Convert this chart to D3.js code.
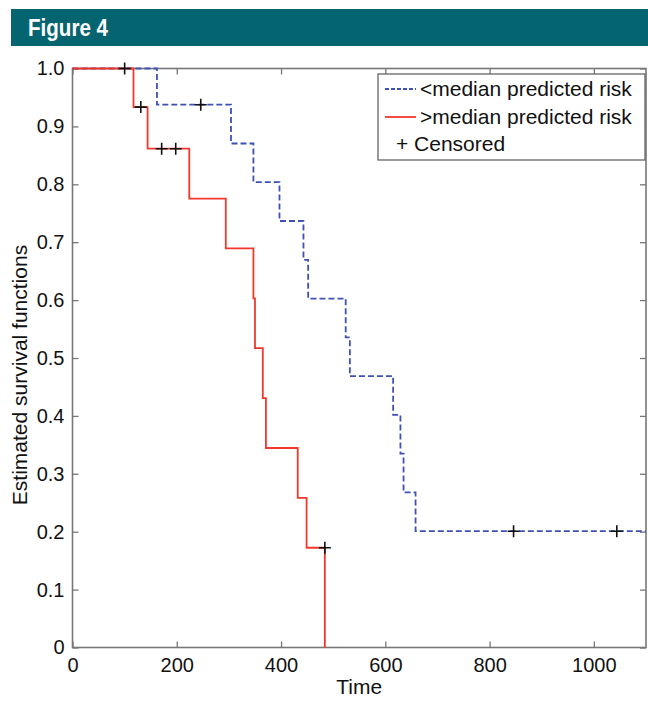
<!DOCTYPE html>
<html>
<head>
<meta charset="utf-8">
<script src="https://cdn.jsdelivr.net/npm/d3@7"></script>
<style>
    body { margin: 0; background: #fff; }
    svg { display: block; }
    .tick text, .lbl { font-family: "Liberation Sans", Arial, Helvetica, sans-serif; font-size: 20px; fill: #111; }
    .lbl.legend { font-size: 21px; }
    .lbl.axtitle { font-size: 21px; }
    .title { font-family: "Liberation Sans", Arial, sans-serif; font-weight: bold; font-size: 23px; fill: #fff; }
</style>
</head>
<body>
<svg id="chart" width="648" height="701"></svg>
<script>
// step points (time, estimated survival)
const lowTimes   = [0, 162, 304, 347, 397, 443, 452, 524, 532, 615, 629, 635, 658];
const lowSurv    = [1, 0.9375, 0.8705, 0.8036, 0.7366, 0.6696, 0.6027, 0.5357, 0.4688, 0.4018, 0.3348, 0.2679, 0.2009];
const highTimes  = [0, 117, 144, 224, 294, 347, 350, 365, 371, 432, 449, 484];
const highSurv   = [1, 0.9333, 0.8615, 0.7754, 0.6892, 0.6031, 0.5169, 0.4308, 0.3446, 0.2585, 0.1723, 0];
// censored marks
const lowCensTimes  = [246, 846, 1044];
const lowCensSurv   = [0.9375, 0.2009, 0.2009];
const highCensTimes = [100, 131, 171, 198, 484];
const highCensSurv  = [1, 0.9333, 0.8615, 0.8615, 0.1723];

const xTicks = [0, 200, 400, 600, 800, 1000];
const yTicks = [0, 0.1, 0.2, 0.3, 0.4, 0.5, 0.6, 0.7, 0.8, 0.9, 1.0];
const legendLabels = ["<median predicted risk", ">median predicted risk", "+ Censored"];

const margin = {top: 68.5, right: 2, bottom: 53.5, left: 72.5};
const width = 648 - margin.left - margin.right;
const height = 701 - margin.top - margin.bottom;

const svg = d3.select("#chart");

// header bar
svg.append("rect").attr("x", 11).attr("y", 9).attr("width", 637).attr("height", 37).attr("fill", "#04646f");
svg.append("text").attr("class", "title").attr("x", 28).attr("y", 36)
    .attr("textLength", 80).attr("lengthAdjust", "spacingAndGlyphs").text("Figure 4");

const x = d3.scaleLinear().domain([0, 1100]).range([0, width]);
const y = d3.scaleLinear().domain([0, 1]).range([height, 0]);

const g = svg.append("g").attr("transform", "translate(" + margin.left + "," + margin.top + ")");

const axisColor = "#777";
function styleAxis(sel, showText) {
    sel.select(".domain").remove();
    sel.selectAll(".tick line").attr("stroke", axisColor).attr("stroke-width", 1.3);
    if (!showText) sel.selectAll(".tick text").remove();
}

// inward ticks on all four sides
g.append("g").attr("transform", "translate(0," + height + ")")
    .call(d3.axisBottom(x).tickValues(xTicks).tickSizeInner(-6).tickPadding(10).tickFormat(d3.format("d")))
    .call(s => styleAxis(s, true));
g.append("g")
    .call(d3.axisTop(x).tickValues(xTicks).tickSizeInner(-6).tickSizeOuter(0))
    .call(s => styleAxis(s, false));
g.append("g")
    .call(d3.axisLeft(y).tickValues(yTicks).tickSizeInner(-6).tickPadding(8)
        .tickFormat(d => d === 0 ? "0" : d3.format(".1f")(d)))
    .call(s => styleAxis(s, true));
g.append("g").attr("transform", "translate(" + width + ",0)")
    .call(d3.axisRight(y).tickValues(yTicks).tickSizeInner(-6))
    .call(s => styleAxis(s, false));

g.selectAll(".tick text").attr("fill", "#111");

// frame
g.append("rect").attr("width", width).attr("height", height)
    .attr("fill", "none").attr("stroke", axisColor).attr("stroke-width", 1.6);

const line = d3.line().x(d => x(d[0])).y(d => y(d[1])).curve(d3.curveStepAfter);

const lowData = lowTimes.map((t, i) => [t, lowSurv[i]]);
lowData.push([x.domain()[1], lowSurv[lowSurv.length - 1]]);
const highData = highTimes.map((t, i) => [t, highSurv[i]]);

const blue = "#3f51b5", red = "#f2382c";

g.append("path").datum(lowData).attr("d", line)
    .attr("fill", "none").attr("stroke", blue).attr("stroke-width", 1.8).attr("stroke-dasharray", "6,3");
g.append("path").datum(highData).attr("d", line)
    .attr("fill", "none").attr("stroke", red).attr("stroke-width", 1.8);

const plus = "M-6,0H6M0,-6V6";
const cens = lowCensTimes.map((t, i) => [t, lowCensSurv[i]])
    .concat(highCensTimes.map((t, i) => [t, highCensSurv[i]]));
g.selectAll(".cens").data(cens).enter().append("path").attr("class", "cens")
    .attr("d", plus).attr("transform", d => "translate(" + x(d[0]) + "," + y(d[1]) + ")")
    .attr("stroke", "#111").attr("stroke-width", 1.6);

// axis titles
svg.append("text").attr("class", "lbl axtitle").attr("text-anchor", "middle")
    .attr("x", margin.left + width / 2).attr("y", 694).text("Time");
svg.append("text").attr("class", "lbl axtitle").attr("text-anchor", "middle")
    .attr("transform", "translate(27,375) rotate(-90)")
    .text("Estimated survival functions");

// legend
const lg = svg.append("g").attr("transform", "translate(378,74)");
lg.append("rect").attr("width", 267).attr("height", 86).attr("fill", "#fff")
    .attr("stroke", "#666").attr("stroke-width", 1.3);
const rows = [22, 50, 77];
lg.append("line").attr("x1", 7).attr("x2", 38).attr("y1", rows[0] - 7).attr("y2", rows[0] - 7)
    .attr("stroke", blue).attr("stroke-width", 1.8).attr("stroke-dasharray", "4,2");
lg.append("line").attr("x1", 7).attr("x2", 38).attr("y1", rows[1] - 7).attr("y2", rows[1] - 7)
    .attr("stroke", red).attr("stroke-width", 1.8);
lg.selectAll(".ltext").data(legendLabels).enter().append("text").attr("class", "lbl legend")
    .attr("x", (d, i) => i < 2 ? 42 : 18).attr("y", (d, i) => rows[i]).text(d => d);
</script>
</body>
</html>
